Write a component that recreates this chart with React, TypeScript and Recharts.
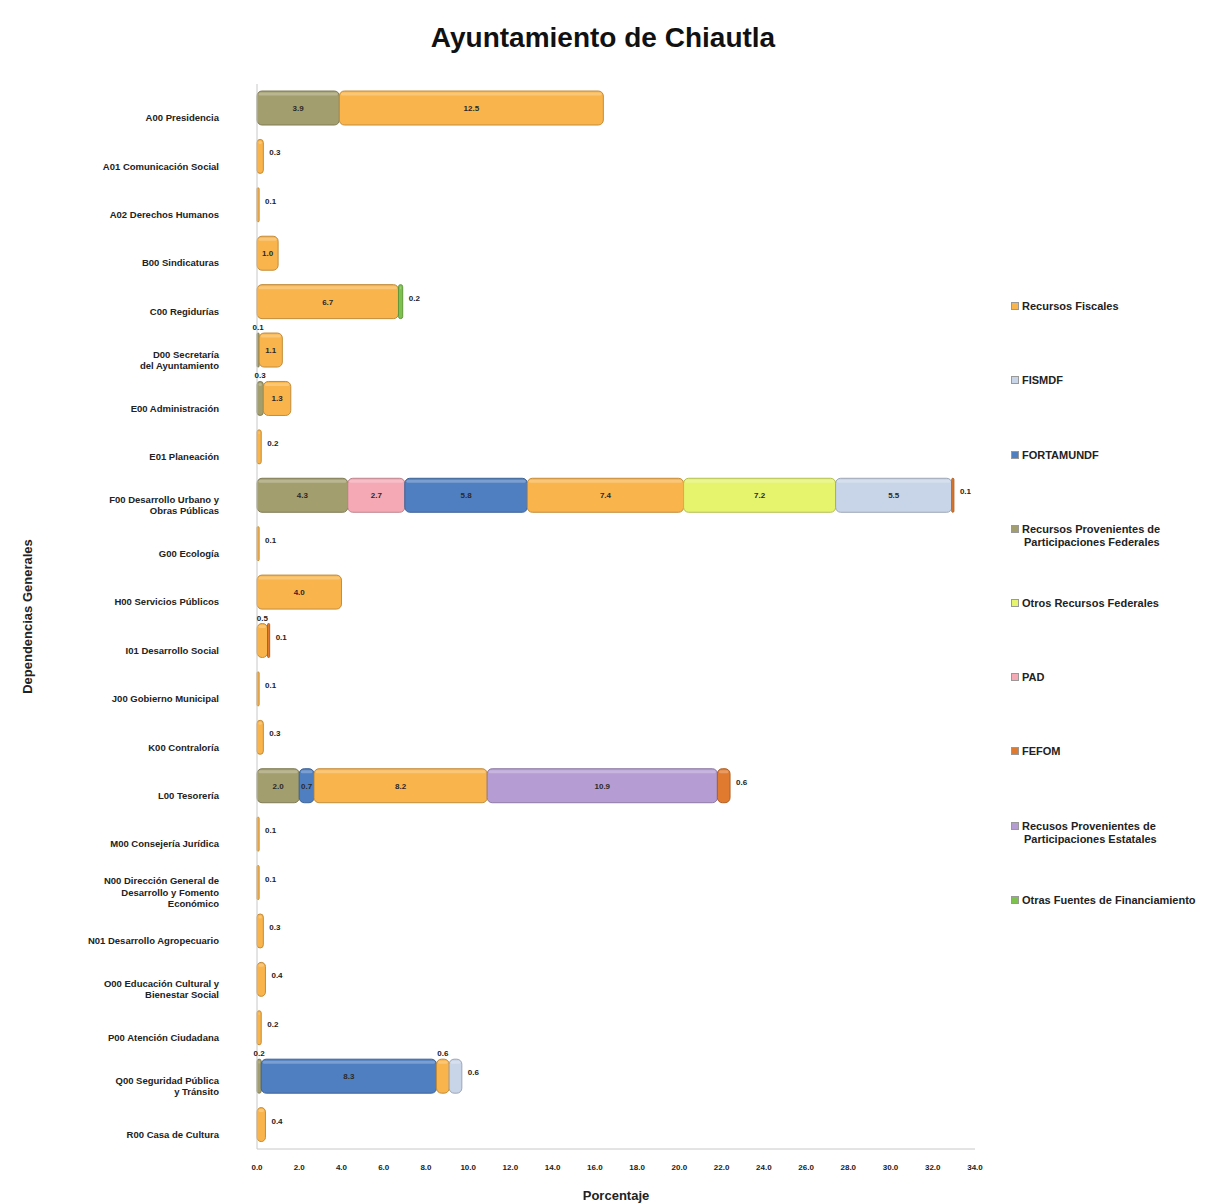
import React from 'react';
import { BarChart, Bar, XAxis, YAxis, LabelList } from 'recharts';

const FONT = '"Liberation Sans", Arial, sans-serif';

// Dependencias (A00 ... R00)
const categories = [
  'A00 Presidencia',
  'A01 Comunicación Social',
  'A02 Derechos Humanos',
  'B00 Sindicaturas',
  'C00 Regidurías',
  'D00 Secretaría\ndel Ayuntamiento',
  'E00 Administración',
  'E01 Planeación',
  'F00 Desarrollo Urbano y\nObras Públicas',
  'G00 Ecología',
  'H00 Servicios Públicos',
  'I01 Desarrollo Social',
  'J00 Gobierno Municipal',
  'K00 Contraloría',
  'L00 Tesorería',
  'M00 Consejería Jurídica',
  'N00 Dirección General de\nDesarrollo y Fomento\nEconómico',
  'N01 Desarrollo Agropecuario',
  'O00 Educación Cultural y\nBienestar Social',
  'P00 Atención Ciudadana',
  'Q00 Seguridad Pública\ny Tránsito',
  'R00 Casa de Cultura',
];

// porcentaje por fuente de financiamiento, mismo orden que categories
const partFederales = [3.9, 0, 0, 0, 0, 0.1, 0.3, 0, 4.3, 0, 0, 0, 0, 0, 2.0, 0, 0, 0, 0, 0, 0.2, 0];
const pad = [0, 0, 0, 0, 0, 0, 0, 0, 2.7, 0, 0, 0, 0, 0, 0, 0, 0, 0, 0, 0, 0, 0];
const fortamundf = [0, 0, 0, 0, 0, 0, 0, 0, 5.8, 0, 0, 0, 0, 0, 0.7, 0, 0, 0, 0, 0, 8.3, 0];
const fiscales = [12.5, 0.3, 0.1, 1.0, 6.7, 1.1, 1.3, 0.2, 7.4, 0.1, 4.0, 0.5, 0.1, 0.3, 8.2, 0.1, 0.1, 0.3, 0.4, 0.2, 0.6, 0.4];
const otrosFederales = [0, 0, 0, 0, 0, 0, 0, 0, 7.2, 0, 0, 0, 0, 0, 0, 0, 0, 0, 0, 0, 0, 0];
const fismdf = [0, 0, 0, 0, 0, 0, 0, 0, 5.5, 0, 0, 0, 0, 0, 0, 0, 0, 0, 0, 0, 0.6, 0];
const partEstatales = [0, 0, 0, 0, 0, 0, 0, 0, 0, 0, 0, 0, 0, 0, 10.9, 0, 0, 0, 0, 0, 0, 0];
const otrasFuentes = [0, 0, 0, 0, 0.2, 0, 0, 0, 0, 0, 0, 0, 0, 0, 0, 0, 0, 0, 0, 0, 0, 0];
const fefom = [0, 0, 0, 0, 0, 0, 0, 0, 0.1, 0, 0, 0.1, 0, 0, 0.6, 0, 0, 0, 0, 0, 0, 0];

const xTicks = [0, 2, 4, 6, 8, 10, 12, 14, 16, 18, 20, 22, 24, 26, 28, 30, 32, 34];

// orden de apilado
const SERIES = [
  { key: 'partFederales', name: 'Recursos Provenientes de\nParticipaciones Federales', color: '#a39e6e', values: partFederales },
  { key: 'pad', name: 'PAD', color: '#f4a9b5', values: pad },
  { key: 'fortamundf', name: 'FORTAMUNDF', color: '#4f7fc0', values: fortamundf },
  { key: 'fiscales', name: 'Recursos Fiscales', color: '#f9b44c', values: fiscales },
  { key: 'otrosFederales', name: 'Otros Recursos Federales', color: '#e6f36c', values: otrosFederales },
  { key: 'fismdf', name: 'FISMDF', color: '#c8d5e8', values: fismdf },
  { key: 'partEstatales', name: 'Recusos Provenientes de\nParticipaciones Estatales', color: '#b59dd3', values: partEstatales },
  { key: 'otrasFuentes', name: 'Otras Fuentes de Financiamiento', color: '#7cc24c', values: otrasFuentes },
  { key: 'fefom', name: 'FEFOM', color: '#e07a2e', values: fefom },
];

const LEGEND_ORDER = ['fiscales', 'fismdf', 'fortamundf', 'partFederales', 'otrosFederales', 'pad', 'fefom', 'partEstatales', 'otrasFuentes'];

const rows = categories.map((name, i) => {
  const r: any = { name };
  SERIES.forEach((s) => {
    r[s.key] = s.values[i] > 0 ? s.values[i] : null;
  });
  return r;
});

function darker(hex: string, f = 0.78) {
  const n = parseInt(hex.slice(1), 16);
  const r = Math.round(((n >> 16) & 255) * f);
  const g = Math.round(((n >> 8) & 255) * f);
  const b = Math.round((n & 255) * f);
  return `rgb(${r},${g},${b})`;
}

function Segment(props: any) {
  const { x, y, width, height, fill } = props;
  if (!width || width <= 0) return null;
  const r = Math.min(5, width / 2);
  return (
    <g>
      <rect x={x} y={y} width={width} height={height} rx={r} ry={r} fill={fill} stroke={darker(fill)} strokeWidth={1} />
      {width > 4 && (
        <rect x={x + 1.5} y={y + 1.5} width={width - 3} height={3} rx={1.5} fill="#fff" opacity={0.25} />
      )}
    </g>
  );
}

function makeLabel(si: number) {
  return (props: any) => {
    const { x, y, width, height, value, index } = props;
    if (!value) return null;
    const row = rows[index];
    const isLast = SERIES.slice(si + 1).every((s) => !row[s.key]);
    const txt = Number(value).toFixed(1);
    const common = { fontSize: 8, fontWeight: 'bold' as const, fontFamily: FONT };
    if (width >= 14) {
      return (
        <text x={x + width / 2} y={y + height / 2 + 3} textAnchor="middle" fill="#2a2a2a" {...common}>
          {txt}
        </text>
      );
    }
    if (isLast) {
      return (
        <text x={x + width + 6} y={y + height / 2 - 1} textAnchor="start" fill="#222" {...common}>
          {txt}
        </text>
      );
    }
    return (
      <text x={x + width / 2} y={y - 3} textAnchor="middle" fill="#222" {...common}>
        {txt}
      </text>
    );
  };
}

function CategoryTick(props: any) {
  const { y, payload } = props;
  const lines = String(payload.value).split('\n');
  const lh = 11.5;
  const y0 = y + 13 - ((lines.length - 1) * lh) / 2;
  return (
    <text x={219} y={y0} textAnchor="end" fontSize={9.5} fontWeight="bold" fill="#222" fontFamily={FONT}>
      {lines.map((l, k) => (
        <tspan key={k} x={219} dy={k === 0 ? 0 : lh}>
          {l}
        </tspan>
      ))}
    </text>
  );
}

function SideLegend() {
  const tops = [300, 374, 449, 523, 597, 671, 745, 820, 894];
  return (
    <>
      {LEGEND_ORDER.map((k, i) => {
        const s = SERIES.find((d) => d.key === k)!;
        const lines = s.name.split('\n');
        return (
          <div
            key={k}
            style={{
              position: 'absolute',
              left: 1011,
              top: tops[i],
              fontFamily: FONT,
              fontSize: 11,
              fontWeight: 'bold',
              color: '#222',
              lineHeight: '13px',
              whiteSpace: 'nowrap',
            }}
          >
            <span
              style={{
                display: 'inline-block',
                width: 6,
                height: 6,
                background: s.color,
                border: '0.5px solid #999',
                marginRight: 3,
                verticalAlign: 'middle',
                position: 'relative',
                top: -1,
              }}
            />
            {lines[0]}
            {lines.slice(1).map((l, j) => (
              <div key={j} style={{ paddingLeft: 13 }}>{l}</div>
            ))}
          </div>
        );
      })}
    </>
  );
}

export default function App() {
  return (
    <div style={{ position: 'absolute', left: 0, top: 0, width: 1206, height: 1203, background: '#fff' }}>
      <div
        style={{
          position: 'absolute',
          left: 0,
          top: 22,
          width: 1206,
          textAlign: 'center',
          fontFamily: FONT,
          fontWeight: 'bold',
          fontSize: 28,
          color: '#111',
        }}
      >
        Ayuntamiento de Chiautla
      </div>
      <BarChart
        width={1206}
        height={1203}
        data={rows}
        layout="vertical"
        margin={{ top: 84, right: 231, bottom: 2, left: 0 }}
        barCategoryGap={14}
      >
        <XAxis
          type="number"
          domain={[0, 34]}
          ticks={xTicks}
          tickFormatter={(v: number) => v.toFixed(1)}
          tick={{ fontSize: 8, fontWeight: 'bold', fill: '#222', fontFamily: FONT }}
          tickLine={false}
          tickMargin={9}
          axisLine={{ stroke: '#c8c8c8' }}
          height={52}
          label={{
            value: 'Porcentaje',
            position: 'insideBottom',
            offset: 1,
            style: { fontSize: 13, fontWeight: 'bold', fill: '#222', fontFamily: FONT },
          }}
        />
        <YAxis
          type="category"
          dataKey="name"
          width={257}
          interval={0}
          tickLine={false}
          axisLine={{ stroke: '#c8c8c8' }}
          tick={<CategoryTick />}
          label={{
            value: 'Dependencias Generales',
            angle: -90,
            position: 'insideLeft',
            offset: 27,
            style: { fontSize: 13, fontWeight: 'bold', fill: '#222', fontFamily: FONT, textAnchor: 'middle' },
          }}
        />
        {SERIES.map((s, si) => (
          <Bar
            key={s.key}
            dataKey={s.key}
            name={s.name}
            stackId="a"
            fill={s.color}
            barSize={34}
            shape={<Segment />}
            isAnimationActive={false}
          >
            <LabelList dataKey={s.key} content={makeLabel(si)} />
          </Bar>
        ))}
      </BarChart>
      <SideLegend />
    </div>
  );
}
